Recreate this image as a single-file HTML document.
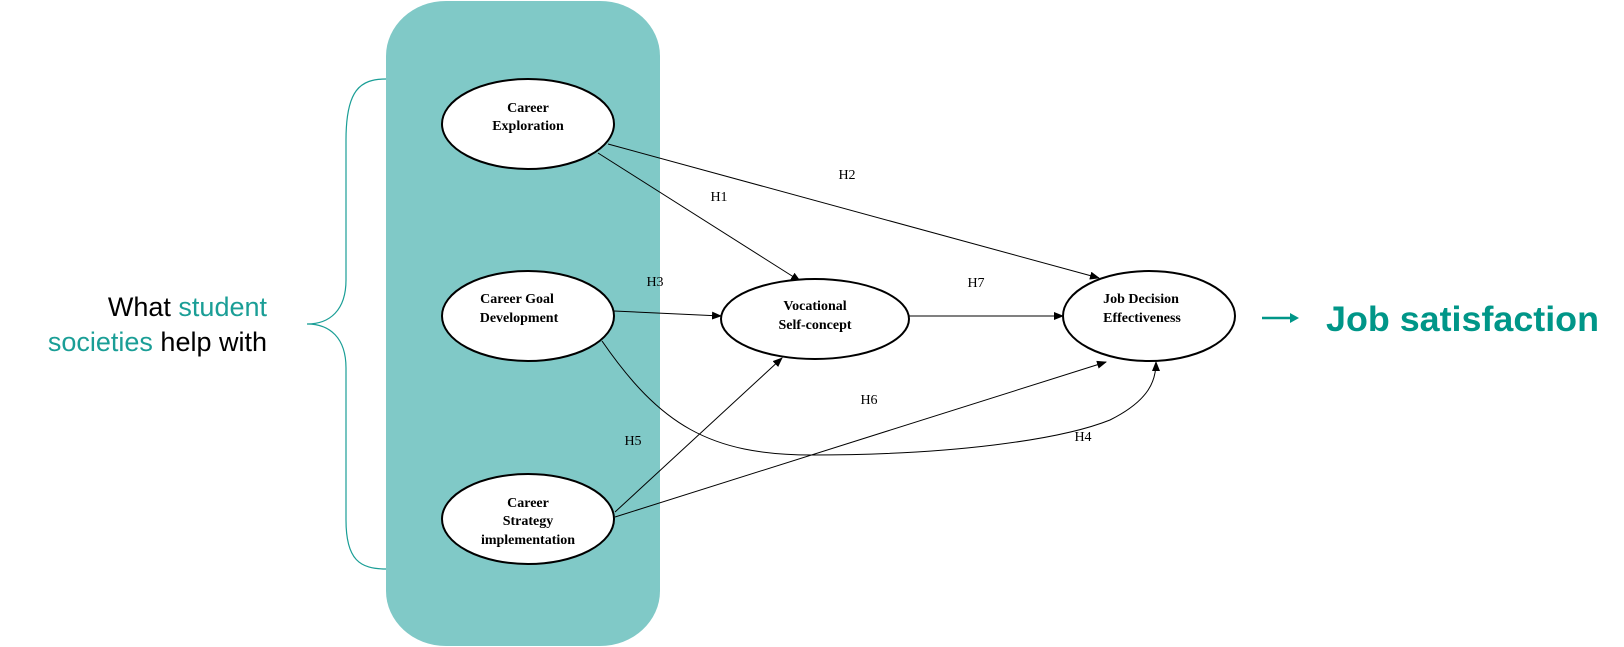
<!DOCTYPE html>
<html><head><meta charset="utf-8"><style>
html,body{margin:0;padding:0;background:#fff;}
body{width:1624px;height:647px;position:relative;overflow:hidden;}
svg{position:absolute;left:0;top:0;}
</style></head><body>
<svg width="1624" height="647" viewBox="0 0 1624 647" xmlns="http://www.w3.org/2000/svg">
<defs><marker id="a" markerWidth="10" markerHeight="8" refX="9" refY="4" orient="auto" markerUnits="userSpaceOnUse"><path d="M0,0 L10,4 L0,8 z" fill="#000"/></marker></defs>
<rect x="386" y="1" width="274" height="645" rx="60" ry="55" fill="#80C9C7"/>
<path d="M386,79 C360,79 346,90 346,140 L346,280 C346,310 330,324 307,324 C330,324 346,338 346,368 L346,520 C346,560 360,569 386,569" fill="none" stroke="#1a9e96" stroke-width="1.2"/>
<g font-family="Liberation Sans, sans-serif" font-size="27" text-anchor="end">
<text x="267" y="316"><tspan fill="#000">What </tspan><tspan fill="#1a9e96">student</tspan></text>
<text x="267" y="351"><tspan fill="#1a9e96">societies</tspan><tspan fill="#000"> help with</tspan></text>
</g>
<g stroke="#000" stroke-width="1" fill="none" marker-end="url(#a)">
<line x1="598" y1="153" x2="800" y2="281"/>
<line x1="608" y1="144" x2="1099" y2="278"/>
<line x1="614" y1="311" x2="721" y2="316"/>
<line x1="908" y1="316" x2="1063" y2="316"/>
<line x1="615" y1="512" x2="782" y2="358"/>
<line x1="615" y1="517" x2="1106" y2="362"/>
<path d="M602,341 C660,425 710,455 812,455 C950,455 1060,440 1110,420 C1150,400 1156,380 1156,362"/>
</g>
<g fill="#fff" stroke="#000" stroke-width="2">
<ellipse cx="528" cy="124" rx="86" ry="45"/>
<ellipse cx="528" cy="316" rx="86" ry="45"/>
<ellipse cx="528" cy="519" rx="86" ry="45"/>
<ellipse cx="815" cy="319" rx="94" ry="40"/>
<ellipse cx="1149" cy="316" rx="86" ry="45"/>
</g>
<g font-family="Liberation Serif, serif" font-size="14" font-weight="bold" text-anchor="middle" fill="#000">
<text x="528" y="112">Career</text><text x="528" y="130">Exploration</text>
<text x="517" y="303">Career Goal</text><text x="519" y="322">Development</text>
<text x="528" y="507">Career</text><text x="528" y="525">Strategy</text><text x="528" y="544">implementation</text>
<text x="815" y="310">Vocational</text><text x="815" y="329">Self-concept</text>
<text x="1141" y="303">Job Decision</text><text x="1142" y="322">Effectiveness</text>
</g>
<g font-family="Liberation Serif, serif" font-size="14" text-anchor="middle" fill="#000">
<text x="719" y="201">H1</text><text x="847" y="179">H2</text><text x="655" y="286">H3</text>
<text x="1083" y="441">H4</text><text x="633" y="445">H5</text><text x="869" y="404">H6</text>
<text x="976" y="287">H7</text>
</g>
<line x1="1262" y1="318" x2="1292" y2="318" stroke="#009688" stroke-width="2.5"/>
<path d="M1290,313 L1299,318 L1290,323 z" fill="#009688"/>
<text x="1326" y="331" font-family="Liberation Sans, sans-serif" font-size="35" font-weight="bold" fill="#009688" textLength="273" lengthAdjust="spacingAndGlyphs">Job satisfaction</text>
</svg>
</body></html>
